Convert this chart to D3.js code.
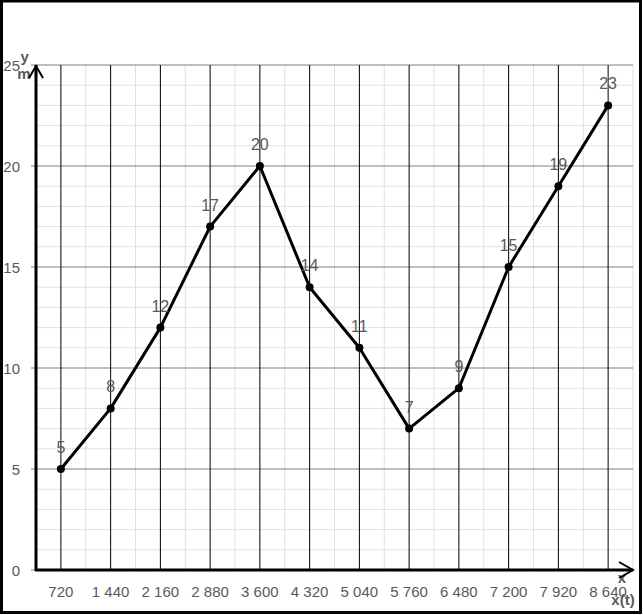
<!DOCTYPE html>
<html>
<head>
<meta charset="utf-8">
<script src="https://cdn.jsdelivr.net/npm/d3@7"></script>
<style>
  html, body { margin: 0; padding: 0; background: #fff; }
  svg { display: block; }
</style>
</head>
<body>
<script>
(function(){
  var width = 643;
  var height = 615;

  // data
  var categories = ["720", "1 440", "2 160", "2 880", "3 600", "4 320", "5 040", "5 760", "6 480", "7 200", "7 920", "8 640"];
  var values = [5, 8, 12, 17, 20, 14, 11, 7, 9, 15, 19, 23];
  var yTicks = [0, 5, 10, 15, 20, 25];
  var yMinor = d3.range(0, 26).filter(d => d % 5 !== 0);

  var left = 36, right = 633, top = 65, bottom = 570;
  var labelColor = "#595959";
  var font = "'Liberation Sans', Arial, sans-serif";

  var svg = d3.select("body").append("svg")
    .attr("width", width)
    .attr("height", height);

  svg.append("rect")
    .attr("width", width).attr("height", height)
    .attr("fill", "#fff");

  var x = d3.scaleBand().domain(categories).range([left, right]).padding(0);
  var y = d3.scaleLinear().domain([0, 25]).range([bottom, top]);
  var cx = d => x(d) + x.bandwidth() / 2;

  // minor horizontal grid
  svg.append("g").selectAll("line").data(yMinor).join("line")
    .attr("x1", left).attr("x2", right)
    .attr("y1", d => y(d)).attr("y2", d => y(d))
    .attr("stroke", "#e0e0e0").attr("stroke-width", 1);

  // minor vertical grid at band edges
  svg.append("g").selectAll("line").data(categories).join("line")
    .attr("x1", d => x(d) + x.bandwidth()).attr("x2", d => x(d) + x.bandwidth())
    .attr("y1", top).attr("y2", bottom)
    .attr("stroke", "#e0e0e0").attr("stroke-width", 1);

  // major horizontal grid (with ticks left of the axis)
  svg.append("g").selectAll("line").data(yTicks).join("line")
    .attr("x1", left - 5).attr("x2", right)
    .attr("y1", d => y(d)).attr("y2", d => y(d))
    .attr("stroke", "#7f7f7f").attr("stroke-width", 1);

  // major vertical lines at category centres
  svg.append("g").selectAll("line").data(categories).join("line")
    .attr("x1", cx).attr("x2", cx)
    .attr("y1", top).attr("y2", bottom)
    .attr("stroke", "#000").attr("stroke-width", 1);

  // y tick labels
  svg.append("g").selectAll("text").data(yTicks).join("text")
    .attr("x", 20).attr("y", d => y(d) + 1)
    .attr("dy", "0.35em")
    .attr("text-anchor", "end")
    .attr("font-family", font).attr("font-size", 15)
    .attr("fill", labelColor)
    .text(d => d);

  // x tick labels
  svg.append("g").selectAll("text").data(categories).join("text")
    .attr("x", cx).attr("y", 592)
    .attr("dy", "0.35em")
    .attr("text-anchor", "middle")
    .attr("font-family", font).attr("font-size", 15)
    .attr("fill", labelColor)
    .text(d => d);

  // axis titles
  svg.append("text").attr("x", 20.5).attr("y", 62).attr("text-anchor", "start")
    .attr("font-family", font).attr("font-size", 15).attr("font-weight", "bold")
    .attr("fill", labelColor).text("y");
  svg.append("text").attr("x", 24).attr("y", 79).attr("text-anchor", "middle")
    .attr("font-family", font).attr("font-size", 15).attr("font-weight", "bold")
    .attr("fill", labelColor).text("m");
  svg.append("text").attr("x", 622).attr("y", 583).attr("text-anchor", "middle")
    .attr("font-family", font).attr("font-size", 15).attr("font-weight", "bold")
    .attr("fill", labelColor).text("x");
  svg.append("text").attr("x", 623).attr("y", 605).attr("text-anchor", "middle")
    .attr("font-family", font).attr("font-size", 15).attr("font-weight", "bold")
    .attr("fill", labelColor).text("x(t)");

  // axes with arrows
  svg.append("line")
    .attr("x1", left).attr("x2", left).attr("y1", bottom + 1).attr("y2", top)
    .attr("stroke", "#000").attr("stroke-width", 3);
  svg.append("line")
    .attr("x1", left - 1).attr("x2", right).attr("y1", bottom).attr("y2", bottom)
    .attr("stroke", "#000").attr("stroke-width", 3);
  svg.append("path")
    .attr("d", d3.line()([[left - 7, top + 13], [left, top + 1], [left + 7, top + 13]]))
    .attr("fill", "none").attr("stroke", "#000").attr("stroke-width", 2);
  svg.append("path")
    .attr("d", d3.line()([[right - 14, bottom - 8], [right, bottom], [right - 14, bottom + 8]]))
    .attr("fill", "none").attr("stroke", "#000").attr("stroke-width", 2);

  // series line
  var line = d3.line()
    .x((d, i) => cx(categories[i]))
    .y(d => y(d));

  svg.append("path")
    .datum(values)
    .attr("d", line)
    .attr("fill", "none")
    .attr("stroke", "#000")
    .attr("stroke-width", 3)
    .attr("stroke-linejoin", "round");

  svg.append("g").selectAll("circle").data(values).join("circle")
    .attr("cx", (d, i) => cx(categories[i]))
    .attr("cy", d => y(d))
    .attr("r", 4)
    .attr("fill", "#000");

  // data labels
  svg.append("g").selectAll("text").data(values).join("text")
    .attr("x", (d, i) => cx(categories[i]))
    .attr("y", d => y(d) - 16)
    .attr("text-anchor", "middle")
    .attr("font-family", font).attr("font-size", 16)
    .attr("fill", labelColor)
    .text(d => d);

  // outer frame
  svg.append("rect")
    .attr("x", 1.5).attr("y", 1).attr("width", width - 4).attr("height", height - 3.5)
    .attr("fill", "none").attr("stroke", "#000").attr("stroke-width", 3);
})();
</script>
</body>
</html>
